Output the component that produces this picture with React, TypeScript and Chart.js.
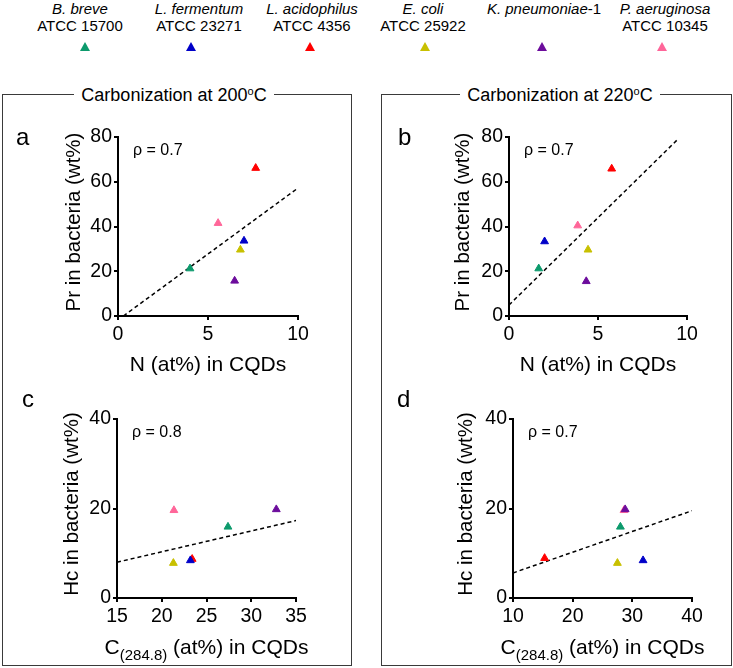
import React, { useEffect, useRef } from 'react';
import { Chart, registerables } from 'chart.js';

Chart.register(...registerables);

const FONT = '"Liberation Sans", Arial, Helvetica, sans-serif';

// ---- Legend / species ----
const speciesItalic = ['B. breve', 'L. fermentum', 'L. acidophilus', 'E. coli', 'K. pneumoniae', 'P. aeruginosa'];
const speciesSuffix = ['', '', '', '', '-1', ''];
const strainLabels = ['ATCC 15700', 'ATCC 23271', 'ATCC 4356', 'ATCC 25922', '', 'ATCC 10345'];
const speciesColors = ['#0c9a6c', '#0000c8', '#ff0000', '#c8c000', '#6c0c9c', '#ff6699'];

// ---- Panel a: Pr vs N (200 °C) ----
const aX = [4.0, 7.0, 7.65, 6.8, 6.48, 5.56];
const aY = [21.2, 33.6, 66.1, 29.6, 15.7, 41.5];
const aFitX = [0.3, 10];
const aFitY = [0, 57.2];
const aRho = 'ρ = 0.7';

// ---- Panel b: Pr vs N (220 °C) ----
const bX = [1.67, 2.0, 5.77, 4.44, 4.34, 3.86];
const bY = [21.2, 33.3, 65.8, 29.6, 15.5, 40.4];
const bFitX = [0, 9.5];
const bFitY = [4.9, 79.1];
const bRho = 'ρ = 0.7';

// ---- Panel c: Hc vs C(284.8) (200 °C) ----
const cX = [27.4, 23.2, 23.4, 21.3, 32.8, 21.36];
const cY = [15.9, 8.4, 8.7, 7.8, 19.8, 19.6];
const cFitX = [15, 35];
const cFitY = [8.0, 17.3];
const cRho = 'ρ = 0.8';

// ---- Panel d: Hc vs C(284.8) (220 °C) ----
const dX = [28.0, 31.8, 15.3, 27.5, 28.8, 28.6];
const dY = [15.9, 8.4, 8.9, 7.8, 19.8, 19.6];
const dFitX = [10, 40];
const dFitY = [5.6, 19.5];
const dRho = 'ρ = 0.7';

// ---- Tick labels ----
const nTicks = [0, 5, 10];
const prTicks = [0, 20, 40, 60, 80];
const cTicksC = [15, 20, 25, 30, 35];
const cTicksD = [10, 20, 30, 40];
const hcTicks = [0, 20, 40];

const prTitle = 'Pr in bacteria (wt%)';
const hcTitle = 'Hc in bacteria (wt%)';
const nTitle = [{ text: 'N (at%) in CQDs' }];
const cTitle = [{ text: 'C' }, { text: '(284.8)', sub: true }, { text: ' (at%) in CQDs' }];

const decorPlugin = {
  id: 'decor',
  afterDraw(chart: any, _args: any, opts: any) {
    const { ctx, chartArea } = chart;
    ctx.save();
    ctx.fillStyle = '#000';
    ctx.textBaseline = 'alphabetic';
    ctx.textAlign = 'left';
    ctx.font = `24px ${FONT}`;
    ctx.fillText(opts.letter, opts.letterX, opts.letterY);
    ctx.font = `16px ${FONT}`;
    ctx.fillText(opts.rho, chartArea.left + 15, chartArea.top + 18);
    // y title
    ctx.save();
    ctx.translate(opts.yTitleX, (chartArea.top + chartArea.bottom) / 2 - 4.5);
    ctx.rotate(-Math.PI / 2);
    ctx.textAlign = 'center';
    ctx.textBaseline = 'middle';
    ctx.font = `20.5px ${FONT}`;
    ctx.fillText(opts.yTitle, 0, 0);
    ctx.restore();
    // x title
    const parts = opts.xTitle as { text: string; sub?: boolean }[];
    let total = 0;
    const widths = parts.map((p) => {
      ctx.font = `${p.sub ? 15 : 21}px ${FONT}`;
      const w = ctx.measureText(p.text).width;
      total += w;
      return w;
    });
    let x = (chartArea.left + chartArea.right) / 2 - total / 2;
    ctx.textAlign = 'left';
    ctx.textBaseline = 'alphabetic';
    parts.forEach((p, i) => {
      ctx.font = `${p.sub ? 15 : 21}px ${FONT}`;
      ctx.fillText(p.text, x, opts.xTitleY + (p.sub ? 6 : 0));
      x += widths[i];
    });
    ctx.restore();
  },
};

type Rect = { left: number; top: number; width: number; height: number };
type Plot = { left: number; right: number; top: number; bottom: number };

type PanelProps = {
  cv: Rect;
  plot: Plot;
  xs: number[];
  ys: number[];
  fitX: number[];
  fitY: number[];
  xTicks: number[];
  yTicks: number[];
  letter: string;
  letterX: number;
  letterY: number;
  rho: string;
  yTitle: string;
  yTitleX: number;
  xTitle: { text: string; sub?: boolean }[];
  xTitleY: number;
};

function Panel(p: PanelProps) {
  const ref = useRef<HTMLCanvasElement>(null);
  useEffect(() => {
    const { cv, plot } = p;
    const datasets: any[] = p.xs.map((x, i) => ({
      label: speciesItalic[i],
      data: [{ x, y: p.ys[i] }],
      pointStyle: 'triangle',
      pointRadius: 4.5,
      pointHoverRadius: 4.5,
      backgroundColor: speciesColors[i],
      borderColor: speciesColors[i],
      borderWidth: 1,
      showLine: false,
    }));
    datasets.push({
      label: 'fit',
      data: p.fitX.map((x, i) => ({ x, y: p.fitY[i] })),
      showLine: true,
      borderColor: '#000',
      borderWidth: 1.5,
      borderDash: [4, 3],
      pointRadius: 0,
      pointHoverRadius: 0,
      fill: false,
    });
    const gridOpts = { drawOnChartArea: false, drawTicks: true, tickLength: 4, color: '#000', lineWidth: 2 };
    const chart = new Chart(ref.current as HTMLCanvasElement, {
      type: 'scatter',
      data: { datasets },
      options: {
        responsive: false,
        animation: false,
        events: [],
        layout: {
          padding: {
            left: 0,
            top: plot.top - cv.top,
            right: cv.left + cv.width - plot.right,
            bottom: 0,
          },
        },
        plugins: {
          legend: { display: false },
          tooltip: { enabled: false },
          decor: {
            letter: p.letter,
            letterX: p.letterX - cv.left,
            letterY: p.letterY - cv.top,
            rho: p.rho,
            yTitle: p.yTitle,
            yTitleX: p.yTitleX - cv.left,
            xTitle: p.xTitle,
            xTitleY: p.xTitleY - cv.top,
          },
        } as any,
        scales: {
          x: {
            type: 'linear',
            min: p.xTicks[0],
            max: p.xTicks[p.xTicks.length - 1],
            afterBuildTicks: (s: any) => {
              s.ticks = p.xTicks.map((v) => ({ value: v }));
            },
            afterFit: (s: any) => {
              s.height = cv.top + cv.height - plot.bottom;
            },
            grid: gridOpts,
            border: { color: '#000', width: 2 },
            ticks: { font: { size: 19.5, family: FONT }, color: '#000', padding: 3, maxRotation: 0 },
          },
          y: {
            type: 'linear',
            min: p.yTicks[0],
            max: p.yTicks[p.yTicks.length - 1],
            afterBuildTicks: (s: any) => {
              s.ticks = p.yTicks.map((v) => ({ value: v }));
            },
            afterFit: (s: any) => {
              s.width = plot.left - cv.left;
            },
            grid: gridOpts,
            border: { color: '#000', width: 2 },
            ticks: { font: { size: 19.5, family: FONT }, color: '#000', padding: 2 },
          },
        },
      } as any,
      plugins: [decorPlugin],
    });
    return () => chart.destroy();
  }, []);
  return (
    <canvas
      ref={ref}
      width={p.cv.width}
      height={p.cv.height}
      style={{ position: 'absolute', left: p.cv.left, top: p.cv.top, width: p.cv.width, height: p.cv.height }}
    />
  );
}

const legendTextX = [80, 199, 312, 423, 544, 665];
const legendTriX = [85, 191, 310, 424.5, 542, 662];

function BoxTitle({ cx, temp }: { cx: number; temp: string }) {
  return (
    <div
      style={{
        position: 'absolute',
        left: cx - 110,
        width: 220,
        top: 84,
        textAlign: 'center',
        lineHeight: '22px',
        fontSize: 18,
      }}
    >
      <span style={{ background: '#fff', padding: '0 7px' }}>
        Carbonization at {temp}
        <sup style={{ fontSize: 11, verticalAlign: 'top', lineHeight: '14px' }}>o</sup>C
      </span>
    </div>
  );
}

export default function App() {
  return (
    <div
      style={{
        position: 'absolute',
        left: 0,
        top: 0,
        width: 733,
        height: 668,
        background: '#fff',
        fontFamily: FONT,
        color: '#000',
        overflow: 'hidden',
      }}
    >
      {speciesItalic.map((name, i) => (
        <React.Fragment key={name}>
          <div
            style={{
              position: 'absolute',
              left: legendTextX[i] - 70,
              width: 140,
              top: 0,
              textAlign: 'center',
              fontSize: 15,
              lineHeight: '17px',
              whiteSpace: 'nowrap',
            }}
          >
            <div>
              <span style={{ fontStyle: 'italic' }}>{name}</span>
              {speciesSuffix[i]}
            </div>
            <div>{strainLabels[i] || '\u00a0'}</div>
          </div>
          <div
            style={{
              position: 'absolute',
              left: legendTriX[i] - 5,
              top: 42,
              width: 0,
              height: 0,
              borderLeft: '5px solid transparent',
              borderRight: '5px solid transparent',
              borderBottom: `9px solid ${speciesColors[i]}`,
            }}
          />
        </React.Fragment>
      ))}

      <div
        style={{
          position: 'absolute',
          left: 2,
          top: 94,
          width: 350,
          height: 572,
          border: '1.5px solid #3a3a3a',
          boxSizing: 'border-box',
        }}
      />
      <div
        style={{
          position: 'absolute',
          left: 381,
          top: 94,
          width: 351,
          height: 572,
          border: '1.5px solid #3a3a3a',
          boxSizing: 'border-box',
        }}
      />
      <BoxTitle cx={174} temp="200" />
      <BoxTitle cx={560} temp="220" />

      <Panel
        cv={{ left: 4, top: 108, width: 345, height: 275 }}
        plot={{ left: 118, right: 298, top: 137, bottom: 316 }}
        xs={aX}
        ys={aY}
        fitX={aFitX}
        fitY={aFitY}
        xTicks={nTicks}
        yTicks={prTicks}
        letter="a"
        letterX={16}
        letterY={145}
        rho={aRho}
        yTitle={prTitle}
        yTitleX={74}
        xTitle={nTitle}
        xTitleY={371}
      />
      <Panel
        cv={{ left: 384, top: 108, width: 345, height: 275 }}
        plot={{ left: 509, right: 687, top: 137, bottom: 316 }}
        xs={bX}
        ys={bY}
        fitX={bFitX}
        fitY={bFitY}
        xTicks={nTicks}
        yTicks={prTicks}
        letter="b"
        letterX={398}
        letterY={145}
        rho={bRho}
        yTitle={prTitle}
        yTitleX={463}
        xTitle={nTitle}
        xTitleY={371}
      />
      <Panel
        cv={{ left: 4, top: 385, width: 345, height: 279 }}
        plot={{ left: 117, right: 296, top: 419, bottom: 598 }}
        xs={cX}
        ys={cY}
        fitX={cFitX}
        fitY={cFitY}
        xTicks={cTicksC}
        yTicks={hcTicks}
        letter="c"
        letterX={22}
        letterY={407}
        rho={cRho}
        yTitle={hcTitle}
        yTitleX={72}
        xTitle={cTitle}
        xTitleY={654}
      />
      <Panel
        cv={{ left: 384, top: 385, width: 345, height: 279 }}
        plot={{ left: 513, right: 692, top: 419, bottom: 598 }}
        xs={dX}
        ys={dY}
        fitX={dFitX}
        fitY={dFitY}
        xTicks={cTicksD}
        yTicks={hcTicks}
        letter="d"
        letterX={397}
        letterY={407}
        rho={dRho}
        yTitle={hcTitle}
        yTitleX={466}
        xTitle={cTitle}
        xTitleY={654}
      />
    </div>
  );
}
